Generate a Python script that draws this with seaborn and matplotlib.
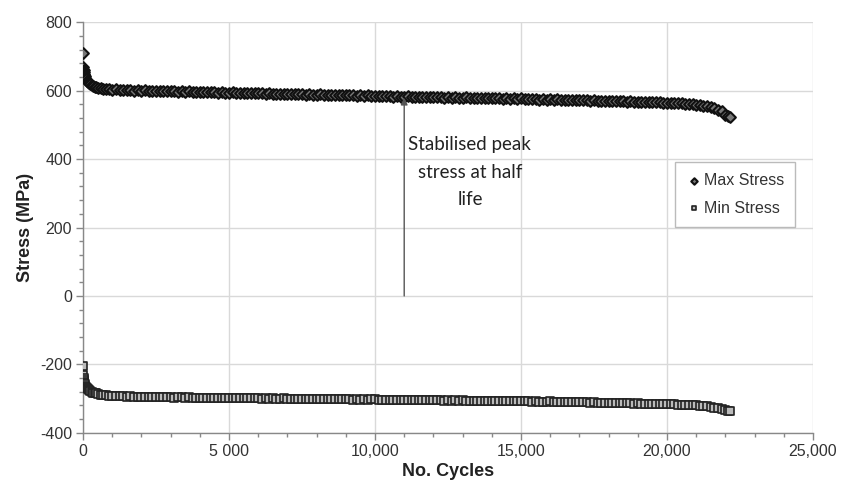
import matplotlib
matplotlib.use("Agg")
import matplotlib.pyplot as plt
import seaborn as sns
import pandas as pd
from matplotlib.ticker import MultipleLocator, FixedLocator

cycles = [0, 10, 20, 30, 40, 50, 60, 80, 100, 130, 160, 200, 250, 300, 350, 400, 450, 500, 600, 700, 800, 900,
          1000, 1125, 1250, 1375, 1500, 1625, 1750, 1875,
          2000, 2125, 2250, 2375, 2500, 2625, 2750, 2875,
          3000, 3125, 3250, 3375, 3500, 3625, 3750, 3875,
          4000, 4125, 4250, 4375, 4500, 4625, 4750, 4875,
          5000, 5125, 5250, 5375, 5500, 5625, 5750, 5875,
          6000, 6125, 6250, 6375, 6500, 6625, 6750, 6875,
          7000, 7125, 7250, 7375, 7500, 7625, 7750, 7875,
          8000, 8125, 8250, 8375, 8500, 8625, 8750, 8875,
          9000, 9125, 9250, 9375, 9500, 9625, 9750, 9875,
          10000, 10125, 10250, 10375, 10500, 10625, 10750, 10875,
          11000, 11125, 11250, 11375, 11500, 11625, 11750, 11875,
          12000, 12125, 12250, 12375, 12500, 12625, 12750, 12875,
          13000, 13125, 13250, 13375, 13500, 13625, 13750, 13875,
          14000, 14125, 14250, 14375, 14500, 14625, 14750, 14875,
          15000, 15125, 15250, 15375, 15500, 15625, 15750, 15875,
          16000, 16125, 16250, 16375, 16500, 16625, 16750, 16875,
          17000, 17125, 17250, 17375, 17500, 17625, 17750, 17875,
          18000, 18125, 18250, 18375, 18500, 18625, 18750, 18875,
          19000, 19125, 19250, 19375, 19500, 19625, 19750, 19875,
          20000, 20125, 20250, 20375, 20500, 20625, 20750, 20875,
          21000, 21125, 21250, 21375, 21500, 21625, 21750, 21875,
          22000, 22100, 22150]

max_stress = [710, 668, 660, 655, 650, 646, 643, 638, 634, 629, 625, 621, 618, 615, 613, 611, 610, 609, 607, 606, 605, 604,
              603, 604, 602, 603, 601, 602, 600, 601,
              600, 601, 599, 600, 598, 599, 600, 598,
              598, 599, 597, 598, 597, 598, 596, 597,
              597, 596, 597, 595, 596, 594, 595, 594,
              594, 595, 593, 594, 592, 593, 593, 592,
              592, 593, 591, 592, 590, 591, 591, 590,
              590, 591, 589, 590, 589, 588, 589, 588,
              588, 589, 587, 588, 587, 586, 588, 587,
              587, 586, 587, 585, 586, 585, 586, 584,
              585, 584, 585, 583, 584, 582, 583, 582,
              582, 583, 581, 582, 581, 582, 580, 581,
              581, 580, 581, 579, 580, 579, 580, 578,
              579, 580, 578, 579, 578, 579, 577, 578,
              578, 577, 578, 576, 577, 576, 577, 576,
              577, 576, 575, 576, 575, 574, 575, 574,
              575, 574, 575, 573, 574, 572, 573, 572,
              573, 572, 573, 571, 572, 570, 571, 570,
              571, 570, 570, 569, 569, 568, 569, 567,
              568, 567, 568, 566, 567, 566, 566, 565,
              565, 564, 565, 563, 563, 562, 562, 561,
              559, 558, 556, 554, 551, 548, 544, 539,
              530, 526, 524]

min_stress = [-205, -232, -240, -246, -250, -254, -257, -262, -266, -270, -273, -276, -279, -281, -283, -284, -285, -286, -288, -289, -290, -291,
              -292, -293, -292, -293, -294, -293, -294, -294,
              -295, -294, -295, -296, -295, -296, -295, -296,
              -296, -297, -296, -296, -297, -296, -297, -297,
              -297, -298, -297, -298, -297, -298, -298, -297,
              -298, -299, -298, -299, -298, -299, -299, -298,
              -299, -300, -299, -300, -299, -300, -300, -299,
              -300, -301, -300, -301, -300, -301, -301, -300,
              -301, -302, -301, -302, -301, -302, -302, -301,
              -302, -302, -303, -302, -303, -302, -303, -302,
              -302, -303, -303, -304, -303, -304, -303, -304,
              -303, -304, -304, -305, -304, -305, -304, -305,
              -304, -305, -305, -306, -305, -306, -305, -306,
              -305, -306, -306, -307, -306, -307, -306, -307,
              -306, -307, -307, -308, -307, -308, -307, -308,
              -307, -308, -308, -309, -308, -309, -309, -309,
              -308, -309, -309, -310, -310, -311, -310, -311,
              -310, -311, -311, -312, -311, -312, -312, -313,
              -312, -313, -313, -314, -313, -314, -314, -315,
              -314, -315, -315, -316, -315, -316, -316, -317,
              -316, -317, -317, -318, -318, -319, -319, -320,
              -320, -321, -322, -323, -324, -326, -328, -330,
              -333, -335, -336]

y_ticks = [-400, -200, 0, 200, 400, 600, 800]
x_ticks = [0, 5000, 10000, 15000, 20000, 25000]
x_tick_labels = ["0", "5 000", "10,000", "15,000", "20,000", "25,000"]
annot_text = "Stabilised peak\nstress at half\nlife"
annot_x = 11000
annot_y_top = 583

df = pd.DataFrame({"cycles": cycles, "max": max_stress, "min": min_stress})

sns.set_theme(style="white")
plt.rcParams["font.family"] = ["Liberation Sans", "DejaVu Sans"]
plt.rcParams["axes.unicode_minus"] = False

fig = plt.figure(figsize=(8.41, 4.82), dpi=100)
ax = fig.add_axes([0.0987, 0.102, 0.868, 0.852])

sns.scatterplot(data=df, x="cycles", y="max", ax=ax, marker="D", s=30,
                facecolor="#777777", edgecolor="#111111", linewidth=1.5,
                label="Max Stress", zorder=3)
sns.scatterplot(data=df, x="cycles", y="min", ax=ax, marker="s", s=34,
                facecolor="#bbbbbb", edgecolor="#222222", linewidth=1.2,
                label="Min Stress", zorder=3)

ax.set_xlim(0, 25000)
ax.set_ylim(-400, 800)
ax.xaxis.set_major_locator(FixedLocator(x_ticks))
ax.set_xticklabels(x_tick_labels)
ax.yaxis.set_major_locator(FixedLocator(y_ticks))
ax.xaxis.set_minor_locator(MultipleLocator(1000))
ax.yaxis.set_minor_locator(MultipleLocator(40))

ax.grid(True, which="major", color="#d9d9d9", linewidth=1.0)
ax.set_axisbelow(True)
for side in ["top", "right"]:
    ax.spines[side].set_visible(False)
for side in ["left", "bottom"]:
    ax.spines[side].set_color("#888888")
    ax.spines[side].set_linewidth(1.0)

ax.tick_params(which="both", direction="out", color="#888888", labelsize=11.5,
               labelcolor="#333333", bottom=True, left=True)
ax.tick_params(which="major", length=5, width=1, pad=3)
ax.tick_params(which="minor", length=3, width=1)

ax.set_xlabel("No. Cycles", fontsize=13, fontweight="bold", color="#222222", labelpad=3)
ax.set_ylabel("Stress (MPa)", fontsize=13, fontweight="bold", color="#222222", labelpad=4)

ax.annotate("", xy=(annot_x, annot_y_top - 4), xytext=(annot_x, 0),
            arrowprops=dict(arrowstyle="-|>", color="#555555", lw=1.0,
                            mutation_scale=10, shrinkA=0, shrinkB=0), zorder=4)
ax.text(13250, 466, annot_text, ha="center", va="top", fontsize=13.5,
        family=["Lato", "DejaVu Sans"], color="#222222", linespacing=1.72)

leg = ax.legend(loc="upper left", bbox_to_anchor=(0.80, 0.68), frameon=True,
                fontsize=11.5, handletextpad=0.1, handlelength=1.0,
                borderpad=0.7, labelspacing=0.8, fancybox=False, markerscale=0.6)
leg.get_frame().set_edgecolor("#aaaaaa")
leg.get_frame().set_linewidth(1.0)
for t in leg.get_texts():
    t.set_color("#333333")

fig.savefig("out.png", dpi=100)
